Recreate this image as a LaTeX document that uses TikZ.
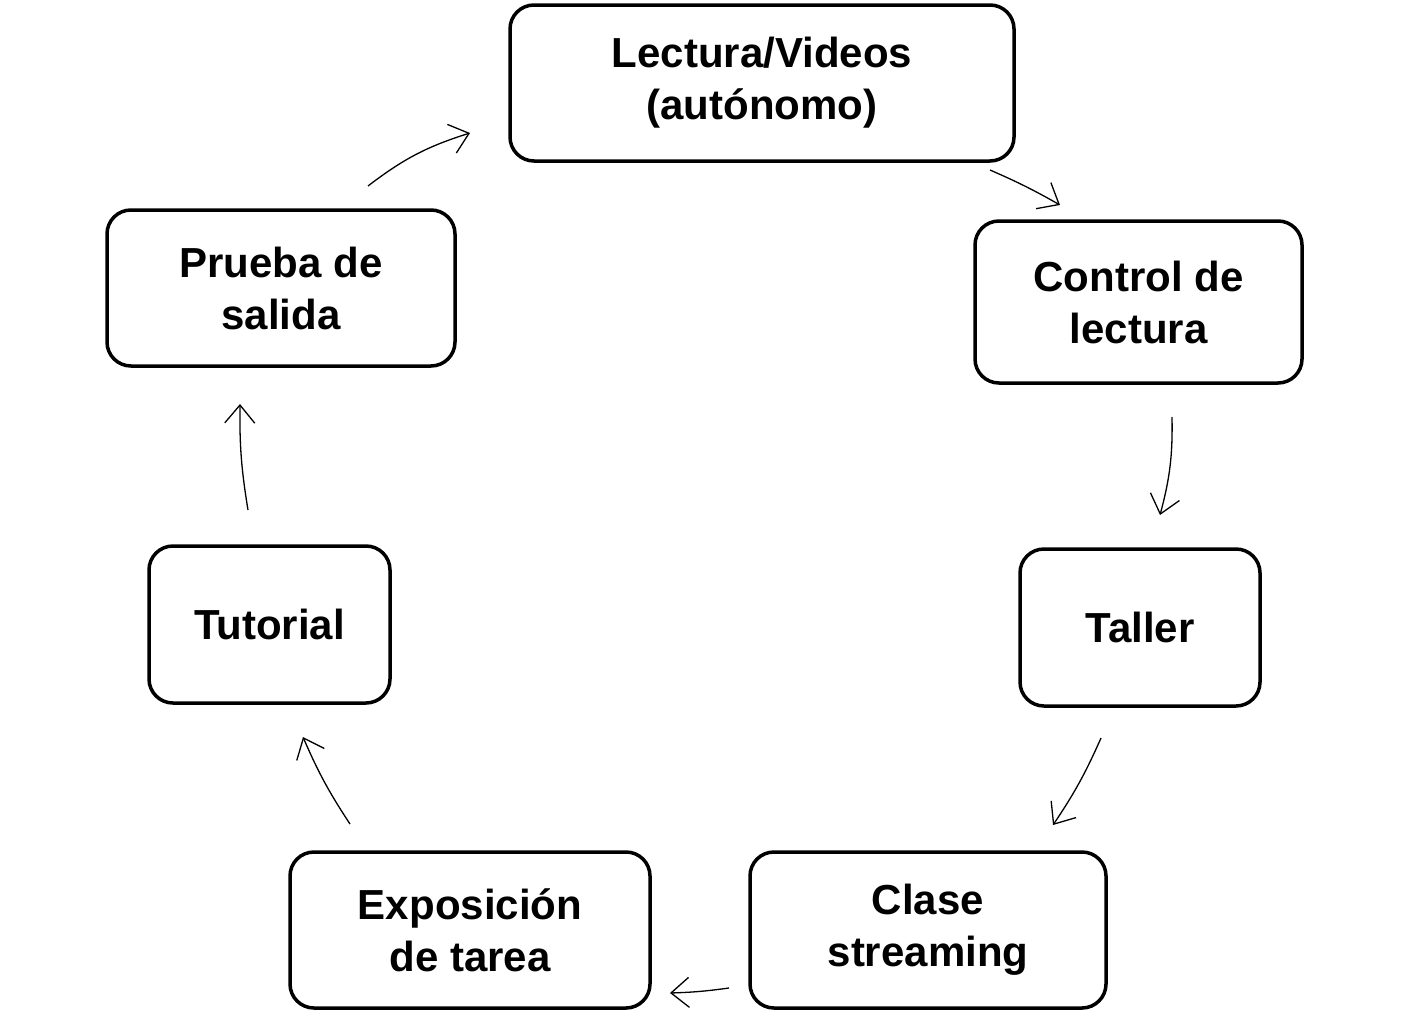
\documentclass[tikz,border=0pt]{standalone}
\usepackage{fontspec}
\setmainfont{Liberation Sans}
\usetikzlibrary{arrows.meta}
\begin{document}
\begin{tikzpicture}[x=1pt,y=-1pt,
  box/.style={draw,line width=3.5pt,rounded corners=24pt,align=center,font=\fontsize{42}{52}\selectfont\bfseries},
  arr/.style={line width=1.3pt,-{Straight Barb[length=18pt,width=30pt,line width=1.3pt]}}]
\useasboundingbox[fill=white] (0,0) rectangle (1420,1017);
\node[box,minimum width=504pt,minimum height=156pt] (a) at (762,83) {Lectura/Videos\\(autónomo)};
\node[box,minimum width=327pt,minimum height=162pt] (b) at (1138.5,302) {Control de\\lectura};
\node[box,minimum width=240pt,minimum height=157pt] (c) at (1140,627.5) {Taller};
\node[box,minimum width=356pt,minimum height=156pt] (d) at (928,930) {Clase\\streaming};
\node[box,minimum width=360pt,minimum height=156pt] (e) at (470,930) {Exposición\\de tarea};
\node[box,minimum width=241pt,minimum height=157pt] (f) at (269.5,624.5) {Tutorial};
\node[box,minimum width=348pt,minimum height=156pt] (g) at (281,288) {Prueba de\\salida};
\coordinate (g1) at (368,186); \coordinate (a1) at (470,133);
\coordinate (a2) at (990,170); \coordinate (b1) at (1060,205);
\coordinate (b2) at (1172,417); \coordinate (c1) at (1160,515);
\coordinate (c2) at (1101,738); \coordinate (d1) at (1053,825);
\coordinate (d2) at (729,988); \coordinate (e1) at (670,993);
\coordinate (e2) at (350,824); \coordinate (f1) at (303,737);
\coordinate (f2) at (248,510); \coordinate (g2) at (240,404);
\draw[arr] (g1) to[bend left=10] (a1);
\draw[arr] (a2) to[bend left=3] (b1);
\draw[arr] (b2) to[bend left=8] (c1);
\draw[arr] (c2) to[bend left=5] (d1);
\draw[arr] (d2) to[bend left=3] (e1);
\draw[arr] (e2) to[bend left=5] (f1);
\draw[arr] (f2) to[bend left=5] (g2);
\end{tikzpicture}
\end{document}
